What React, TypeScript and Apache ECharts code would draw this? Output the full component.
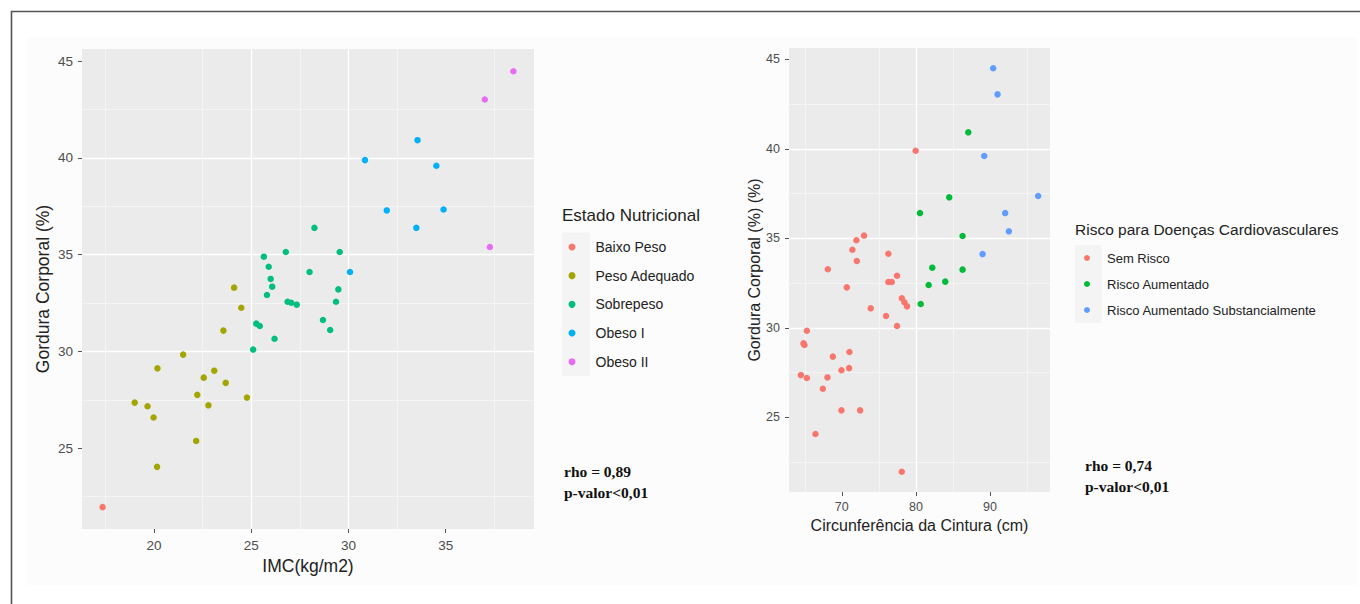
import React, { useEffect, useRef } from "react";
import * as echarts from "echarts";

// ---------- data ----------
const imcTicks = [20, 25, 30, 35];
const cinturaTicks = [70, 80, 90];
const gorduraTicks = [25, 30, 35, 40, 45];

const estadoNames = ["Baixo Peso", "Peso Adequado", "Sobrepeso", "Obeso I", "Obeso II"];
const riscoNames = ["Sem Risco", "Risco Aumentado", "Risco Aumentado Substancialmente"];

// [IMC, Gordura Corporal]
const baixoPeso = [[17.36, 21.96]];
const pesoAdequado = [
  [24.12, 33.3], [24.49, 32.26], [23.57, 31.08], [21.5, 29.84], [20.18, 29.13],
  [23.1, 29.01], [22.56, 28.65], [23.69, 28.38], [22.23, 27.76], [24.78, 27.62],
  [19.01, 27.36], [22.8, 27.22], [19.67, 27.17], [19.98, 26.59], [22.17, 25.38],
  [20.16, 24.04],
];
const sobrepeso = [
  [28.25, 36.39], [25.65, 34.9], [26.78, 35.14], [29.55, 35.14], [25.9, 34.38],
  [28.0, 34.11], [26.0, 33.75], [26.08, 33.35], [29.48, 33.21], [25.81, 32.92],
  [26.87, 32.57], [27.06, 32.52], [27.34, 32.42], [29.36, 32.57], [28.69, 31.63],
  [25.26, 31.44], [25.44, 31.32], [29.06, 31.11], [26.2, 30.66], [25.1, 30.1],
];
const obesoI = [
  [30.85, 39.89], [33.55, 40.92], [34.52, 39.6], [31.97, 37.29], [34.89, 37.34],
  [33.49, 36.39], [30.08, 34.11],
];
const obesoII = [[38.48, 44.48], [37.01, 43.02], [37.27, 35.4]];

// [Circunferência da Cintura, Gordura Corporal]
const semRisco = [
  [79.97, 39.89], [73.0, 35.15], [71.97, 34.89], [71.43, 34.36], [76.28, 34.14],
  [72.02, 33.73], [68.11, 33.27], [77.45, 32.91], [76.28, 32.56], [76.74, 32.56],
  [70.67, 32.26], [78.1, 31.65], [78.45, 31.43], [78.8, 31.2], [73.9, 31.09],
  [75.97, 30.66], [77.45, 30.1], [65.28, 29.84], [64.83, 29.13], [64.96, 29.04],
  [71.03, 28.65], [68.79, 28.39], [70.98, 27.75], [69.95, 27.63], [64.47, 27.36],
  [65.28, 27.2], [68.06, 27.23], [67.44, 26.6], [69.95, 25.39], [72.47, 25.39],
  [66.44, 24.07], [78.09, 21.96],
];
const riscoAumentado = [
  [87.07, 40.92], [84.5, 37.29], [80.55, 36.41], [86.3, 35.13], [82.21, 33.36],
  [86.3, 33.25], [83.96, 32.58], [81.72, 32.39], [80.65, 31.33],
];
const riscoSubstancial = [
  [90.43, 44.5], [91.02, 43.04], [89.22, 39.6], [96.5, 37.36], [92.05, 36.41],
  [92.55, 35.39], [89.0, 34.12],
];

const estadoData = [baixoPeso, pesoAdequado, sobrepeso, obesoI, obesoII];
const riscoData = [semRisco, riscoAumentado, riscoSubstancial];

const leftAnnot = ["rho = 0,89", "p-valor<0,01"];
const rightAnnot = ["rho = 0,74", "p-valor<0,01"];

// ---------- styles ----------
const estadoColors = ["#F8766D", "#A3A500", "#00BF7D", "#00B0F6", "#E76BF3"];
const riscoColors = ["#F8766D", "#00BA38", "#619CFF"];
const SANS = "Liberation Sans, Arial, sans-serif";
const SERIF = "Liberation Serif, Times New Roman, serif";

function makeAxis(opts: any) {
  return {
    type: "value",
    min: opts.min,
    max: opts.max,
    gridIndex: opts.gridIndex,
    name: opts.name,
    nameLocation: "middle",
    nameGap: opts.nameGap,
    nameTextStyle: { color: "#222", fontSize: opts.nameSize, fontFamily: SANS },
    axisLine: { show: false },
    axisTick: {
      show: true,
      length: 4,
      customValues: opts.ticks,
      lineStyle: { color: "#555", width: 1 },
    },
    axisLabel: {
      customValues: opts.ticks,
      color: "#4D4D4D",
      fontSize: opts.labelSize,
      fontFamily: SANS,
      margin: opts.margin,
    },
    splitLine: {
      show: true,
      showMinLine: false,
      showMaxLine: false,
      lineStyle: { color: "#FFFFFF", width: 1.3 },
    },
    minorTick: { show: false, splitNumber: 2 },
    minorSplitLine: { show: true, lineStyle: { color: "#F6F6F6", width: 0.8 } },
  };
}

export default function App() {
  const ref = useRef<HTMLDivElement>(null);
  useEffect(() => {
    if (!ref.current) return;
    const chart = echarts.init(ref.current, undefined, { renderer: "svg" });

    const series: any[] = [];
    estadoNames.forEach((n, i) => {
      series.push({
        type: "scatter",
        name: n,
        xAxisIndex: 0,
        yAxisIndex: 0,
        data: estadoData[i],
        symbolSize: 6.5,
        itemStyle: { color: estadoColors[i], opacity: 1 },
      });
    });
    riscoNames.forEach((n, i) => {
      series.push({
        type: "scatter",
        name: n,
        xAxisIndex: 1,
        yAxisIndex: 1,
        data: riscoData[i],
        symbolSize: 6.5,
        itemStyle: { color: riscoColors[i], opacity: 1 },
      });
    });

    const option: any = {
      animation: false,
      backgroundColor: "#FFFFFF",
      grid: [
        { left: 82, top: 49, width: 452, height: 480, show: true, backgroundColor: "#EBEBEB", borderWidth: 0 },
        { left: 789, top: 48, width: 261, height: 444, show: true, backgroundColor: "#EBEBEB", borderWidth: 0 },
      ],
      xAxis: [
        makeAxis({ gridIndex: 0, min: 16.3, max: 39.54, ticks: imcTicks, name: "IMC(kg/m2)", nameGap: 27, nameSize: 17.5, labelSize: 13.5, margin: 9 }),
        makeAxis({ gridIndex: 1, min: 62.87, max: 98.1, ticks: cinturaTicks, name: "Circunferência da Cintura (cm)", nameGap: 24, nameSize: 16, labelSize: 12.5, margin: 8 }),
      ],
      yAxis: [
        makeAxis({ gridIndex: 0, min: 20.83, max: 45.63, ticks: gorduraTicks, name: "Gordura Corporal (%)", nameGap: 30, nameSize: 17.5, labelSize: 13.5, margin: 9 }),
        makeAxis({ gridIndex: 1, min: 20.83, max: 45.63, ticks: gorduraTicks, name: "Gordura Corporal (%) (%)", nameGap: 24, nameSize: 16, labelSize: 12.5, margin: 9 }),
      ],
      legend: [
        {
          data: estadoNames,
          orient: "vertical",
          left: 568.5,
          top: 232.6,
          padding: 0,
          itemGap: 0,
          itemWidth: 7,
          itemHeight: 7,
          icon: "circle",
          selectedMode: false,
          textStyle: { color: "#222", fontSize: 14, fontFamily: SANS, lineHeight: 28.7, padding: [0, 0, 0, 15] },
        },
        {
          data: riscoNames,
          orient: "vertical",
          left: 1084,
          top: 245,
          padding: 0,
          itemGap: 0,
          itemWidth: 6,
          itemHeight: 6,
          icon: "circle",
          selectedMode: false,
          textStyle: { color: "#222", fontSize: 13, fontFamily: SANS, lineHeight: 26, padding: [0, 0, 0, 12] },
        },
      ],
      graphic: [
        { type: "rect", z: -10, shape: { x: 27, y: 38, width: 1330, height: 547 }, style: { fill: "#FCFCFC" }, silent: true },
        { type: "rect", z: -5, shape: { x: 562, y: 232.6, width: 28, height: 143.5 }, style: { fill: "#F4F4F4" }, silent: true },
        { type: "rect", z: -5, shape: { x: 1075, y: 245, width: 27, height: 78 }, style: { fill: "#F4F4F4" }, silent: true },
        { type: "line", shape: { x1: 11, y1: 11.5, x2: 1360, y2: 11.5 }, style: { stroke: "#555", lineWidth: 1.6 }, silent: true },
        { type: "line", shape: { x1: 11.5, y1: 11, x2: 11.5, y2: 604 }, style: { stroke: "#555", lineWidth: 1.6 }, silent: true },
        {
          type: "text", x: 562, y: 215,
          style: { text: "Estado Nutricional", fill: "#222", font: `17px ${SANS}`, align: "left", verticalAlign: "middle" },
        },
        {
          type: "text", x: 1075, y: 229,
          style: { text: "Risco para Doenças Cardiovasculares", fill: "#222", font: `15.5px ${SANS}`, align: "left", verticalAlign: "middle" },
        },
        {
          type: "text", x: 564, y: 471.5,
          style: { text: leftAnnot[0], fill: "#111", font: `bold 15.5px ${SERIF}`, align: "left", verticalAlign: "middle" },
        },
        {
          type: "text", x: 564, y: 492,
          style: { text: leftAnnot[1], fill: "#111", font: `bold 15.5px ${SERIF}`, align: "left", verticalAlign: "middle" },
        },
        {
          type: "text", x: 1085, y: 465,
          style: { text: rightAnnot[0], fill: "#111", font: `bold 15.5px ${SERIF}`, align: "left", verticalAlign: "middle" },
        },
        {
          type: "text", x: 1085, y: 486,
          style: { text: rightAnnot[1], fill: "#111", font: `bold 15.5px ${SERIF}`, align: "left", verticalAlign: "middle" },
        },
      ],
      series,
    };
    chart.setOption(option);
    return () => chart.dispose();
  }, []);

  return (
    <div
      ref={ref}
      style={{ position: "fixed", left: 0, top: 0, width: 1360, height: 604, background: "#fff" }}
    />
  );
}
